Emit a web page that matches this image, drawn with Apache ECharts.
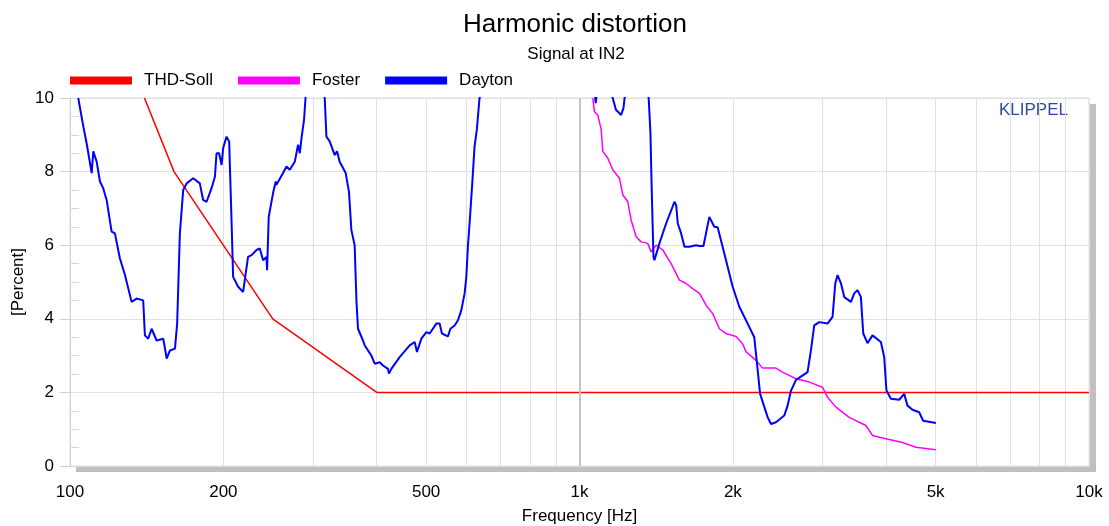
<!DOCTYPE html>
<html><head><meta charset="utf-8">
<script src="https://cdn.jsdelivr.net/npm/echarts@6/dist/echarts.min.js"></script>
<style>html,body{margin:0;padding:0;background:#fff}#c{width:1109px;height:526px}</style>
</head><body><div id="c"></div>
<script>
const FONT = "'Liberation Sans', Arial, sans-serif";
const xGridValues = [100,200,300,400,500,600,700,800,900,1000,2000,3000,4000,5000,6000,7000,8000,9000,10000];
const xLabelValues = [100,200,500,1000,2000,5000,10000];
const yTickValues = [0,2,4,6,8,10];

const thdFreq = [140,160,250,400,10000];
const thdVal  = [10,8,4,2,2];

const fosterFreq = [1062,1070,1086,1103,1111,1136,1162,1198,1216,1244,1263,1292,1321,1361,1382,1414,1457,1513,1571,1619,1668,1720,1772,1826,1882,1939,2029,2090,2123,2221,2288,2430,2503,2660,2825,2999,3068,3187,3383,3649,3759,3994,4304,4574,5005];
const fosterVal  = [10.0,9.63,9.54,9.14,8.55,8.37,8.05,7.82,7.37,7.18,6.68,6.23,6.09,6.05,5.82,6.0,5.87,5.5,5.05,4.96,4.82,4.69,4.37,4.14,3.73,3.6,3.52,3.32,3.1,2.87,2.66,2.66,2.55,2.37,2.28,2.14,1.87,1.6,1.32,1.1,0.83,0.74,0.64,0.51,0.44];

const daytonFreq = [103.8,106.2,107.8,110.3,111.1,112.8,114.5,116.2,118.0,120.7,122.5,125.3,128.2,132.1,135.1,139.2,140.3,142.4,144.6,147.9,152.4,154.8,157.1,160.7,162.3,164.3,166.8,169.4,174.5,179.8,182.5,185.4,189.6,192.5,193.9,196.2,198.4,199.8,202.9,205.3,207.6,209.0,213.8,218.7,220.3,223.6,227.2,232.3,235.8,239.3,243.0,243.7,245.5,250.3,253.4,254.2,261.9,266.0,270.0,276.2,280.3,282.5,284.7,288.0,289.9,300,316.2,318.6,323.4,330.8,334.3,338.3,347.6,352.8,356.7,362.0,364.9,367.5,375.9,378.7,390.4,396.3,405.3,411.4,420.8,422.7,427.3,443.6,464.2,474.8,479.8,489.4,500.5,508.1,523.6,531.5,537.0,551.8,557.9,568.8,577.4,586.1,595.0,599.6,603.9,608.5,615.9,622.3,628.8,636.5,800,1073,1076,1080,1120,1162,1179,1207,1220,1226,1300,1367,1378,1386,1397,1403,1435,1479,1536,1548,1559,1583,1607,1643,1694,1720,1751,1798,1839,1867,1939,1998,2060,2138,2203,2227,2262,2306,2341,2376,2430,2523,2561,2601,2660,2803,2846,2889,2955,3068,3138,3177,3210,3260,3309,3410,3461,3513,3567,3605,3675,3759,3904,3963,4004,4085,4241,4338,4403,4503,4642,4726,5005];
const daytonVal  = [10.0,9.23,8.77,7.96,8.55,8.27,7.73,7.55,7.23,6.37,6.32,5.64,5.19,4.46,4.55,4.5,3.55,3.46,3.73,3.41,3.46,2.92,3.14,3.19,3.87,6.32,7.5,7.68,7.82,7.68,7.23,7.18,7.55,7.86,8.5,8.5,8.18,8.64,8.95,8.82,6.59,5.14,4.87,4.73,5.05,5.68,5.73,5.87,5.91,5.59,5.68,5.32,6.77,7.41,7.73,7.64,7.96,8.14,8.05,8.27,8.73,8.5,8.91,9.41,10.0,12,10.0,8.95,8.82,8.45,8.55,8.27,7.96,7.45,6.41,6.0,4.5,3.73,3.41,3.28,3.0,2.78,2.82,2.73,2.64,2.51,2.64,2.96,3.28,3.37,3.1,3.46,3.64,3.6,3.87,3.87,3.6,3.52,3.73,3.82,3.96,4.23,4.69,5.14,5.96,6.59,7.68,8.68,9.14,10.0,13,10.05,9.86,10.05,10.6,10.0,9.68,9.54,9.73,10.0,11,10.0,9.05,7.5,5.68,5.59,6.05,6.59,7.18,7.09,6.59,6.32,5.96,5.96,6.0,5.98,5.98,6.77,6.5,6.49,5.59,4.87,4.32,3.87,3.5,2.87,1.96,1.6,1.32,1.14,1.19,1.37,1.64,2.05,2.34,2.55,3.14,3.82,3.91,3.87,4.05,4.96,5.19,4.96,4.59,4.46,4.69,4.78,4.59,3.6,3.34,3.55,3.37,2.96,2.05,1.83,1.8,1.96,1.64,1.53,1.46,1.23,1.17];

const zip = (a, b) => a.map((f, i) => [f, b[i]]);
const fmtHz = v => v >= 1000 ? (v / 1000) + 'k' : String(v);

const chart = echarts.init(document.getElementById('c'), null, {renderer: 'canvas'});
chart.setOption({
  animation: false,
  backgroundColor: '#fff',
  textStyle: {fontFamily: FONT},
  title: [
    {text: 'Harmonic distortion', left: 570, top: 7, textAlign: 'center',
     textStyle: {fontFamily: FONT, fontSize: 26, fontWeight: 'normal', color: '#000'}},
    {text: 'Signal at IN2', left: 571, top: 41, textAlign: 'center',
     textStyle: {fontFamily: FONT, fontSize: 17, fontWeight: 'normal', color: '#000'}}
  ],
  legend: {
    left: 70, top: 72, padding: 0, icon: 'rect', itemWidth: 62, itemHeight: 8, itemGap: 25,
    textStyle: {fontFamily: FONT, fontSize: 17, color: '#000', padding: [0, 0, 0, 7]},
    data: ['THD-Soll', 'Foster', 'Dayton']
  },
  graphic: [
    {type: 'rect', shape: {x: 1089, y: 104, width: 7, height: 368}, style: {fill: '#c0c0c0'}, silent: true},
    {type: 'rect', shape: {x: 76, y: 466, width: 1020, height: 6}, style: {fill: '#c0c0c0'}, silent: true},
    {type: 'text', left: 999, top: 102, style: {text: 'KLIPPEL', fontFamily: FONT, fontSize: 17, fill: '#2f4b9e'}, silent: true}
  ],
  grid: {left: 70, right: 20, top: 98, bottom: 60, outerBoundsMode: 'none', containLabel: false,
         show: true, borderColor: '#dcdcdc', borderWidth: 1, backgroundColor: '#fff'},
  xAxis: {
    type: 'log', min: 100, max: 10000, logBase: 10,
    name: 'Frequency [Hz]', nameLocation: 'middle', nameGap: 42, nameMoveOverlap: false,
    nameTextStyle: {fontFamily: FONT, fontSize: 17, color: '#000'},
    axisLine: {show: true, lineStyle: {color: '#dcdcdc'}},
    axisTick: {show: false, customValues: xGridValues},
    axisLabel: {customValues: xLabelValues, formatter: fmtHz, margin: 18, fontFamily: FONT, fontSize: 17, color: '#000'},
    splitLine: {show: true, lineStyle: {color: '#e0e0e0', width: 1}}
  },
  yAxis: [{
    type: 'value', min: 0, max: 10, interval: 2,
    name: '[Percent]', nameLocation: 'middle', nameGap: 43, nameMoveOverlap: false,
    nameTextStyle: {fontFamily: FONT, fontSize: 17, color: '#000'},
    axisLine: {show: true, lineStyle: {color: '#d0d0d0'}},
    axisTick: {show: true, length: 10, lineStyle: {color: '#d0d0d0'}},
    axisLabel: {margin: 16, fontFamily: FONT, fontSize: 17, color: '#000'},
    splitLine: {show: true, lineStyle: {color: '#e0e0e0'}}
  }, {
    type: 'value', min: 0, max: 10, interval: 2, position: 'left', offset: 0,
    axisLine: {show: false}, axisLabel: {show: false}, splitLine: {show: false},
    axisTick: {show: false, inside: true},
    minorTick: {show: true, splitNumber: 4, length: 9, lineStyle: {color: '#d8d8d8'}}
  }],
  series: [
    {name: '1k', type: 'line', data: [], silent: true, z: 1,
     markLine: {silent: true, symbol: ['none', 'none'], label: {show: false},
       lineStyle: {color: '#c4c4c4', width: 2, type: 'solid'}, data: [{xAxis: 1000}]}},
    {name: 'THD-Soll', type: 'line', data: zip(thdFreq, thdVal), showSymbol: false, symbol: 'none',
     lineStyle: {color: '#ff0000', width: 1.5}, itemStyle: {color: '#ff0000'}, z: 3},
    {name: 'Foster', type: 'line', data: zip(fosterFreq, fosterVal), showSymbol: false, symbol: 'none',
     lineStyle: {color: '#ff00ff', width: 1.5}, itemStyle: {color: '#ff00ff'}, z: 4},
    {name: 'Dayton', type: 'line', data: zip(daytonFreq, daytonVal), showSymbol: false, symbol: 'none',
     lineStyle: {color: '#0000ff', width: 2}, itemStyle: {color: '#0000ff'}, z: 5}
  ]
});
</script></body></html>
